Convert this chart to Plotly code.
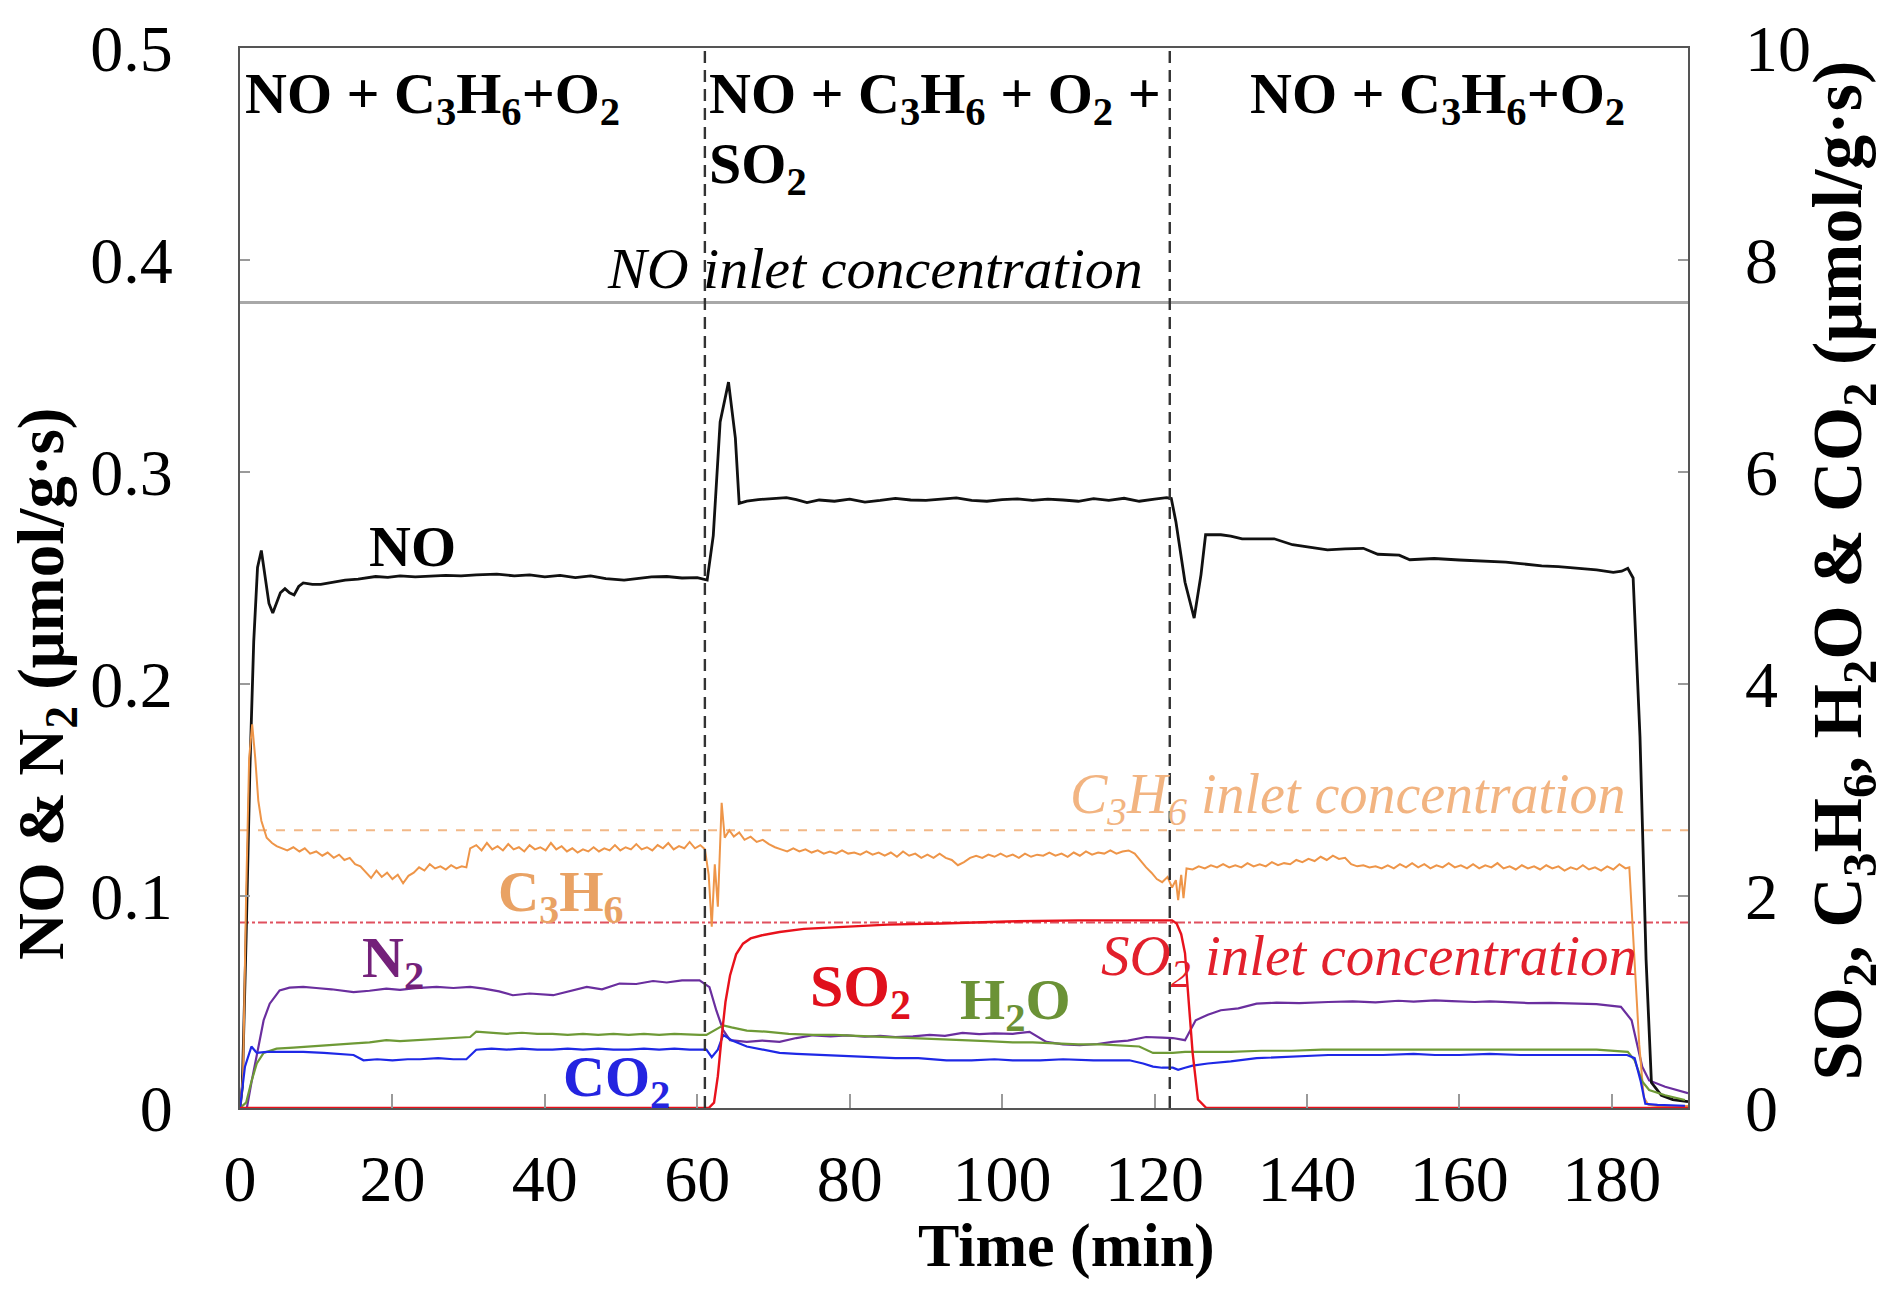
import plotly.graph_objects as go

# ---------------- data ----------------
# NO outlet flow, left axis (µmol/g·s)
t_no = [0, 0.3, 0.8, 1.3, 1.8, 2.3, 2.8, 3.3, 3.8, 4.3, 4.8, 5.3, 5.9, 6.5, 7.1, 7.7, 8.3, 9.5, 10.6, 12,
        13.8, 15.5, 17.8, 19.4, 21, 23, 25, 27, 29, 31, 33.7, 36, 38, 40, 42, 44, 46, 48, 50.4, 52,
        54, 56, 58, 60, 60.9, 61.3, 62.1, 63, 64.1, 65, 65.5, 66.5, 68, 70, 71.7, 73, 74.4, 76, 78, 80,
        82, 84, 86, 88, 90, 92, 94, 96, 98, 100, 102, 104, 106, 108, 110, 112, 114, 116, 118, 120,
        121.6, 122.2, 122.8, 124.0, 125.2, 126.1, 126.7, 128.7, 130, 131.5, 133, 135.7, 138.1, 140,
        142.7, 145, 147.4, 149.3, 152.1, 153.5, 156.7, 160, 163, 166.1, 168, 170.8, 173, 175.5, 178,
        180.2, 181.3, 182.1, 182.8, 183.7, 184.5, 185.2, 186.5, 188, 190]
no_vals = [0, 0.01, 0.08, 0.16, 0.22, 0.255, 0.263, 0.25, 0.238, 0.2335, 0.238, 0.243, 0.245, 0.243, 0.242,
           0.246, 0.2477, 0.247, 0.247, 0.248, 0.249, 0.2495, 0.2507, 0.2503, 0.251, 0.2505, 0.2507, 0.2512,
           0.251, 0.2515, 0.2518, 0.251, 0.2515, 0.2505, 0.2512, 0.2502, 0.251, 0.2497, 0.249, 0.2497,
           0.2505, 0.2507, 0.25, 0.2502, 0.2495, 0.249, 0.270, 0.3236, 0.3424, 0.316, 0.2852, 0.2863,
           0.287, 0.2875, 0.2879, 0.287, 0.2856, 0.2868, 0.2862, 0.2872, 0.2858, 0.2866, 0.2876, 0.2868,
           0.2866, 0.2872, 0.2878, 0.2866, 0.2862, 0.287, 0.2873, 0.2866, 0.2872, 0.2868, 0.2862, 0.2874,
           0.2866, 0.2876, 0.2862, 0.2872, 0.2879, 0.2875, 0.2766, 0.248, 0.2311, 0.2516, 0.2704, 0.2704,
           0.2698, 0.2685, 0.2686, 0.2685, 0.2657, 0.2648, 0.2633, 0.2637, 0.264, 0.2612, 0.2608, 0.2586,
           0.2592, 0.2585, 0.258, 0.2575, 0.2568, 0.2557, 0.2554, 0.2546, 0.2538, 0.2527, 0.2532, 0.2546,
           0.2500, 0.175, 0.07, 0.012, 0.006, 0.004, 0.003]

# N2, left axis
t_n2 = [0, 0.9, 1.5, 2.2, 3.1, 3.9, 5.2, 6.5, 8.3, 10, 12, 14.9, 17, 19.2, 21, 23, 25.8, 28, 30.2, 32,
        34, 35.8, 38, 41.1, 43, 45.5, 47.5, 49.8, 52, 54.2, 56, 58, 60.3, 61.6, 62.5, 63.4, 64.3, 66.5,
        68.5, 70.8, 73, 75.2, 77.5, 79.6, 82, 84, 86, 88.3, 90.5, 92.5, 94.8, 97, 99, 101.4, 103.6,
        105.8, 108, 110.2, 112.5, 114.5, 116.5, 118.9, 121, 122.4, 124, 125.4, 127, 128.7, 131, 133.4,
        136, 139, 142.8, 146, 149, 152, 154, 156.8, 159, 162, 164, 166.2, 169, 172, 175.6, 178, 181.2,
        182.6, 184, 184.9, 187, 190]
n2_vals = [0, 0, 0.012, 0.0257, 0.0414, 0.0492, 0.0555, 0.0568, 0.0571, 0.0566, 0.0560, 0.0547, 0.0553,
           0.0563, 0.0557, 0.0565, 0.0571, 0.0566, 0.0571, 0.0563, 0.0550, 0.0532, 0.0540, 0.0532, 0.0548,
           0.0571, 0.0560, 0.0587, 0.0585, 0.0599, 0.0592, 0.0602, 0.0602, 0.057, 0.046, 0.0367, 0.032,
           0.0312, 0.0318, 0.0312, 0.0330, 0.0343, 0.0338, 0.0343, 0.0336, 0.0340, 0.0335, 0.0338, 0.0345,
           0.0340, 0.0354, 0.0348, 0.0352, 0.0350, 0.0359, 0.0312, 0.0300, 0.0296, 0.0302, 0.0312, 0.0318,
           0.0335, 0.0332, 0.0330, 0.0320, 0.0414, 0.0440, 0.0461, 0.0470, 0.0492, 0.0497, 0.0495, 0.0500,
           0.0503, 0.0498, 0.0506, 0.0502, 0.0508, 0.0504, 0.0500, 0.0503, 0.0498, 0.0495, 0.0496, 0.0492,
           0.0490, 0.0477, 0.0414, 0.0194, 0.013, 0.010, 0.007]

# C3H6, right axis
t_c3h6 = [0, 0.4, 0.8, 1.2, 1.6, 2.0, 2.4, 2.8, 3.5, 4.2, 4.8, 5.5, 6.2, 7, 7.8, 8.5, 9.2, 10, 10.8, 11.5,
          12.3, 13, 13.7, 14.4, 15.1, 15.8, 16.5, 17.2, 17.9, 18.6, 19.3, 20, 20.7, 21.4, 22.1, 22.8, 23.5,
          24.2, 24.9, 25.6, 26.3, 27, 27.7, 28.4, 29.1, 29.7, 30.2, 31, 31.7, 32.4, 33.1, 33.8, 34.5, 35.2,
          35.9, 36.6, 37.3, 38, 38.7, 39.4, 40.1, 40.8, 41.5, 42.2, 42.9, 43.6, 44.3, 45, 45.7, 46.4, 47.1,
          47.8, 48.5, 49.2, 49.9, 50.6, 51.3, 52, 52.7, 53.4, 54.1, 54.8, 55.5, 56.2, 56.9, 57.6, 58.3, 59,
          59.7, 60.4, 61, 61.5, 61.9, 62.3, 62.7, 63.2, 63.6, 64.2, 64.8, 65.5, 66.2, 67, 67.8, 68.6, 69.4,
          70.2, 71, 71.8, 72.6, 73.4, 74.2, 75, 75.8, 76.6, 77.4, 78.2, 79, 79.8, 80.6, 81.4, 82.2, 83, 83.8,
          84.6, 85.4, 86.2, 87, 87.8, 88.6, 89.4, 90.2, 91, 91.8, 92.6, 93.4, 94.2, 95, 95.8, 96.6, 97.4,
          98.2, 99, 99.8, 100.6, 101.4, 102.2, 103, 103.8, 104.6, 105.4, 106.2, 107, 107.8, 108.6, 109.4,
          110.2, 111, 111.8, 112.6, 113.4, 114.2, 115, 115.8, 116.6, 117.4, 118.2, 118.9, 119.6, 120.3, 121,
          121.7, 122.3, 122.8, 123.1, 123.5, 123.8, 124.2, 125, 125.8, 126.6, 127.4, 128.2, 129, 129.8,
          130.6, 131.4, 132.2, 133, 133.8, 134.6, 135.4, 136.2, 137, 137.8, 138.6, 139.4, 140.2, 141, 141.8,
          142.6, 143.4, 144.2, 145, 145.8, 146.6, 147.4, 148.2, 149, 149.8, 150.6, 151.4, 152.2, 153, 153.8,
          154.6, 155.4, 156.2, 157, 157.8, 158.6, 159.4, 160.2, 161, 161.8, 162.6, 163.4, 164.2, 165, 165.8,
          166.6, 167.4, 168.2, 169, 169.8, 170.6, 171.4, 172.2, 173, 173.8, 174.6, 175.4, 176.2, 177, 177.8,
          178.6, 179.4, 180.2, 181, 181.8, 182.3, 183, 183.6, 184.2, 184.8, 186, 188, 190]
c3h6_vals = [0, 0.3, 2.0, 3.3, 3.62, 3.3, 2.9, 2.71, 2.55, 2.5, 2.47, 2.45, 2.43, 2.46, 2.42, 2.45, 2.40,
             2.42, 2.38, 2.41, 2.36, 2.39, 2.34, 2.36, 2.30, 2.28, 2.22, 2.17, 2.24, 2.18, 2.22, 2.16, 2.20,
             2.12, 2.19, 2.22, 2.27, 2.24, 2.30, 2.26, 2.28, 2.25, 2.29, 2.26, 2.28, 2.27, 2.45, 2.48, 2.43,
             2.50, 2.44, 2.47, 2.43, 2.49, 2.44, 2.46, 2.42, 2.48, 2.44, 2.46, 2.43, 2.50, 2.44, 2.47, 2.42,
             2.45, 2.41, 2.44, 2.42, 2.46, 2.42, 2.45, 2.43, 2.48, 2.43, 2.46, 2.44, 2.49, 2.44, 2.46, 2.43,
             2.48, 2.45, 2.50, 2.44, 2.47, 2.45, 2.51, 2.45, 2.48, 2.44, 2.2, 1.71, 2.3, 1.9, 2.88, 2.55,
             2.62, 2.56, 2.60, 2.53, 2.56, 2.51, 2.53, 2.49, 2.46, 2.44, 2.42, 2.45, 2.42, 2.44, 2.41, 2.43,
             2.40, 2.42, 2.40, 2.43, 2.40, 2.41, 2.39, 2.42, 2.39, 2.41, 2.38, 2.41, 2.37, 2.42, 2.38, 2.40,
             2.36, 2.39, 2.36, 2.40, 2.36, 2.34, 2.29, 2.32, 2.36, 2.38, 2.36, 2.39, 2.37, 2.40, 2.37, 2.39,
             2.36, 2.40, 2.37, 2.39, 2.38, 2.41, 2.38, 2.40, 2.37, 2.41, 2.38, 2.42, 2.39, 2.41, 2.40, 2.43,
             2.40, 2.42, 2.43, 2.40, 2.33, 2.27, 2.22, 2.16, 2.13, 2.18, 2.08, 2.15, 1.96, 2.20, 1.98, 2.26,
             2.25, 2.28, 2.26, 2.29, 2.27, 2.30, 2.27, 2.29, 2.27, 2.31, 2.28, 2.30, 2.28, 2.32, 2.29, 2.31,
             2.30, 2.34, 2.32, 2.35, 2.33, 2.37, 2.34, 2.38, 2.35, 2.36, 2.30, 2.28, 2.29, 2.27, 2.28, 2.26,
             2.29, 2.26, 2.30, 2.27, 2.31, 2.27, 2.30, 2.26, 2.29, 2.27, 2.31, 2.27, 2.29, 2.26, 2.30, 2.26,
             2.29, 2.27, 2.31, 2.26, 2.28, 2.25, 2.29, 2.26, 2.28, 2.25, 2.29, 2.26, 2.28, 2.24, 2.27, 2.25,
             2.29, 2.25, 2.27, 2.24, 2.28, 2.25, 2.30, 2.26, 2.27, 1.4, 0.6, 0.1, 0.03, 0.02, 0.02, 0.02]

# SO2, right axis
t_so2 = [0, 61.5, 62.2, 62.7, 63.2, 63.7, 64.3, 65.1, 66, 67, 68.5, 70.8, 74, 78.9, 85, 92, 100.7, 110,
         120.6, 122.3, 122.9, 123.5, 124.0, 124.5, 125.0, 125.7, 126.8, 130, 190]
so2_vals = [0, 0, 0.05, 0.3, 0.67, 1.0, 1.25, 1.45, 1.55, 1.60, 1.63, 1.66, 1.69, 1.71, 1.73, 1.74, 1.76,
            1.77, 1.77, 1.77, 1.74, 1.64, 1.46, 0.99, 0.52, 0.08, 0, 0, 0]

# H2O, right axis
t_h2o = [0, 0.8, 1.5, 2.2, 3.1, 4.8, 7, 10.5, 13, 15, 17, 19.2, 21, 23.6, 26, 28, 30.2, 31, 33, 35, 37,
         39, 41, 43, 45, 47, 49, 51, 53, 55, 57, 59, 60.3, 61.2, 62, 63.4, 64.5, 66.5, 69, 72, 75.2, 78,
         81, 84, 88.3, 92, 95, 98, 101.4, 104, 107, 110, 113, 116.7, 118, 119.8, 121, 122.4, 124, 126,
         130, 134, 138, 142, 146, 150, 154, 158, 162, 166, 170, 174, 178, 182.1, 183, 184, 184.9, 187, 189.6]
h2o_vals = [0, 0.05, 0.25, 0.42, 0.52, 0.56, 0.57, 0.59, 0.60, 0.61, 0.62, 0.64, 0.63, 0.64, 0.65, 0.66,
            0.67, 0.72, 0.71, 0.70, 0.71, 0.70, 0.70, 0.69, 0.70, 0.69, 0.70, 0.69, 0.70, 0.69, 0.70, 0.69,
            0.69, 0.69, 0.72, 0.78, 0.76, 0.73, 0.72, 0.70, 0.69, 0.69, 0.68, 0.67, 0.66, 0.65, 0.64, 0.63,
            0.62, 0.62, 0.61, 0.60, 0.60, 0.59, 0.58, 0.52, 0.52, 0.52, 0.53, 0.53, 0.53, 0.54, 0.54, 0.55,
            0.55, 0.55, 0.55, 0.55, 0.55, 0.55, 0.55, 0.55, 0.55, 0.53, 0.45, 0.25, 0.17, 0.12, 0.075]

# CO2, right axis
t_co2 = [0, 0.65, 1.5, 2.2, 3.5, 6, 8.3, 11, 14.9, 16.2, 18, 20, 22, 23.6, 26, 28, 29.7, 31, 33, 35, 37,
         39, 41, 43, 45, 47, 49, 51, 53, 55, 57, 59, 60.3, 61.2, 61.9, 62.7, 63.4, 64.5, 66.5, 68.5, 70.8,
         73, 76, 79.6, 83, 86, 89, 92.7, 96, 99, 101.4, 105, 108, 112, 116.7, 118.5, 119.8, 121, 122.4,
         123.1, 124, 125, 127, 130, 133.4, 137, 140, 142.8, 146, 150, 154, 156.8, 160, 164, 168, 172, 176,
         180, 182, 183, 183.8, 184.4, 186, 189.6]
co2_vals = [0, 0.39, 0.58, 0.52, 0.53, 0.53, 0.53, 0.52, 0.50, 0.45, 0.46, 0.45, 0.46, 0.46, 0.47, 0.46,
            0.46, 0.55, 0.56, 0.55, 0.56, 0.55, 0.55, 0.56, 0.55, 0.56, 0.55, 0.55, 0.56, 0.55, 0.56, 0.55,
            0.55, 0.55, 0.48, 0.55, 0.69, 0.64, 0.58, 0.55, 0.52, 0.51, 0.50, 0.49, 0.48, 0.47, 0.47, 0.45,
            0.45, 0.46, 0.45, 0.45, 0.46, 0.45, 0.45, 0.42, 0.39, 0.38, 0.38, 0.36, 0.38, 0.40, 0.42, 0.44,
            0.47, 0.48, 0.49, 0.50, 0.50, 0.50, 0.51, 0.50, 0.50, 0.51, 0.50, 0.50, 0.50, 0.50, 0.50, 0.47,
            0.25, 0.04, 0.03, 0.02]

# reference levels and phase boundaries
no_inlet = 0.38          # left axis
c3h6_inlet = 2.62        # right axis
so2_inlet = 1.75         # right axis
phase_switch = [61, 122]  # min

x_ticks = [0, 20, 40, 60, 80, 100, 120, 140, 160, 180]
y_left_ticks = [0, 0.1, 0.2, 0.3, 0.4, 0.5]
y_right_ticks = [0, 2, 4, 6, 8, 10]

# ---------------- figure ----------------
SERIF = "Liberation Serif"
C_NO, C_C3H6, C_N2 = "#111111", "#EE9548", "#6A2E9E"
C_SO2, C_H2O, C_CO2 = "#E8121C", "#6E9A36", "#1E28E6"

fig = go.Figure()
fig.add_trace(go.Scatter(x=t_c3h6, y=c3h6_vals, yaxis="y2", mode="lines", line=dict(color=C_C3H6, width=2)))
fig.add_trace(go.Scatter(x=t_h2o, y=h2o_vals, yaxis="y2", mode="lines", line=dict(color=C_H2O, width=2.2)))
fig.add_trace(go.Scatter(x=t_co2, y=co2_vals, yaxis="y2", mode="lines", line=dict(color=C_CO2, width=2.2)))
fig.add_trace(go.Scatter(x=t_so2, y=so2_vals, yaxis="y2", mode="lines", line=dict(color=C_SO2, width=2.4)))
fig.add_trace(go.Scatter(x=t_n2, y=n2_vals, yaxis="y", mode="lines", line=dict(color=C_N2, width=2.2)))
fig.add_trace(go.Scatter(x=t_no, y=no_vals, yaxis="y", mode="lines", line=dict(color=C_NO, width=2.8)))

shapes = [
    dict(type="line", xref="paper", x0=0, x1=1, yref="y", y0=no_inlet, y1=no_inlet,
         line=dict(color="#A8A8A8", width=3), layer="below"),
    dict(type="line", xref="paper", x0=0, x1=1, yref="y2", y0=c3h6_inlet, y1=c3h6_inlet,
         line=dict(color="#F2B887", width=2, dash="dash"), layer="below"),
    dict(type="line", xref="paper", x0=0, x1=1, yref="y2", y0=so2_inlet, y1=so2_inlet,
         line=dict(color="#E0505E", width=2, dash="dashdot"), layer="below"),
]
for xs in phase_switch:
    shapes.append(dict(type="line", xref="x", x0=xs, x1=xs, yref="paper", y0=0, y1=1,
                       line=dict(color="#333333", width=2.4, dash="12px,7px")))

def ann(text, x, y, size, color="black", xanchor="center", yref="y", xref="x", angle=0, align="center"):
    return dict(text=text, x=x, y=y, xref=xref, yref=yref, showarrow=False, xanchor=xanchor,
                yanchor="middle", textangle=angle, align=align,
                font=dict(family=SERIF, size=size, color=color))

annotations = [
    ann("<b>NO + C<sub>3</sub>H<sub>6</sub>+O<sub>2</sub></b>", 0.4, 0.4765, 58, xanchor="left"),
    ann("<b>NO + C<sub>3</sub>H<sub>6</sub> + O<sub>2</sub> +</b>", 61.3, 0.4765, 58, xanchor="left"),
    ann("<b>SO<sub>2</sub></b>", 61.3, 0.4435, 58, xanchor="left"),
    ann("<b>NO + C<sub>3</sub>H<sub>6</sub>+O<sub>2</sub></b>", 157.1, 0.4765, 58),
    ann("<i>NO inlet concentration</i>", 83.3, 0.396, 58),
    ann("<i>C<sub>3</sub>H<sub>6</sub> inlet concentration</i>", 145.4, 0.146, 56, color="#F2B481"),
    ann("<i>SO<sub>2</sub> inlet concentration</i>", 148.2, 0.0696, 57, color="#E2202C"),
    ann("<b>NO</b>", 22.6, 0.265, 58),
    ann("<b>C<sub>3</sub>H<sub>6</sub></b>", 42.0, 0.100, 57, color="#E9A264"),
    ann("<b>N<sub>2</sub></b>", 20.1, 0.069, 58, color="#74217A"),
    ann("<b>CO<sub>2</sub></b>", 49.4, 0.013, 58, color="#2424E0"),
    ann("<b>SO<sub>2</sub></b>", 81.4, 0.0555, 60, color="#E0101C"),
    ann("<b>H<sub>2</sub>O</b>", 101.7, 0.0494, 58, color="#6B9236"),
    ann("<b>NO &amp; N<sub>2</sub> (μmol/g·s)</b>", -0.134, 0.400, 65, xref="paper", yref="paper", angle=-90),
    ann("<b>SO<sub>2</sub>, C<sub>3</sub>H<sub>6</sub>, H<sub>2</sub>O &amp; CO<sub>2</sub> (μmol/g·s)</b>",
        1.107, 0.507, 70, xref="paper", yref="paper", angle=-90),
    ann("<b>Time (min)</b>", 0.571, -0.130, 62, xref="paper", yref="paper"),
]

tick_common = dict(ticks="inside", tickcolor="#9A9A9A", tickwidth=2, showgrid=False, zeroline=False,
                   tickfont=dict(family=SERIF, size=66, color="black"))

fig.update_layout(
    width=1896, height=1289,
    margin=dict(l=240, r=208, t=45, b=181),
    paper_bgcolor="white", plot_bgcolor="white",
    showlegend=False,
    shapes=shapes, annotations=annotations,
    xaxis=dict(range=[0, 190], tickvals=x_ticks, ticklen=14, showline=True, linecolor="#555555",
               linewidth=2, mirror=True, ticklabelstandoff=12, **tick_common),
    yaxis=dict(range=[0, 0.5], tickvals=y_left_ticks, ticktext=["0", "0.1", "0.2", "0.3", "0.4", "0.5"],
               ticklen=10, showline=True, linecolor="#555555", linewidth=2, mirror=True,
               ticklabelstandoff=52, **tick_common),
    yaxis2=dict(range=[0, 10], tickvals=y_right_ticks, overlaying="y", side="right", ticklen=10,
                showline=False, ticklabelstandoff=56, **tick_common),
)

fig.write_html("out.html")
